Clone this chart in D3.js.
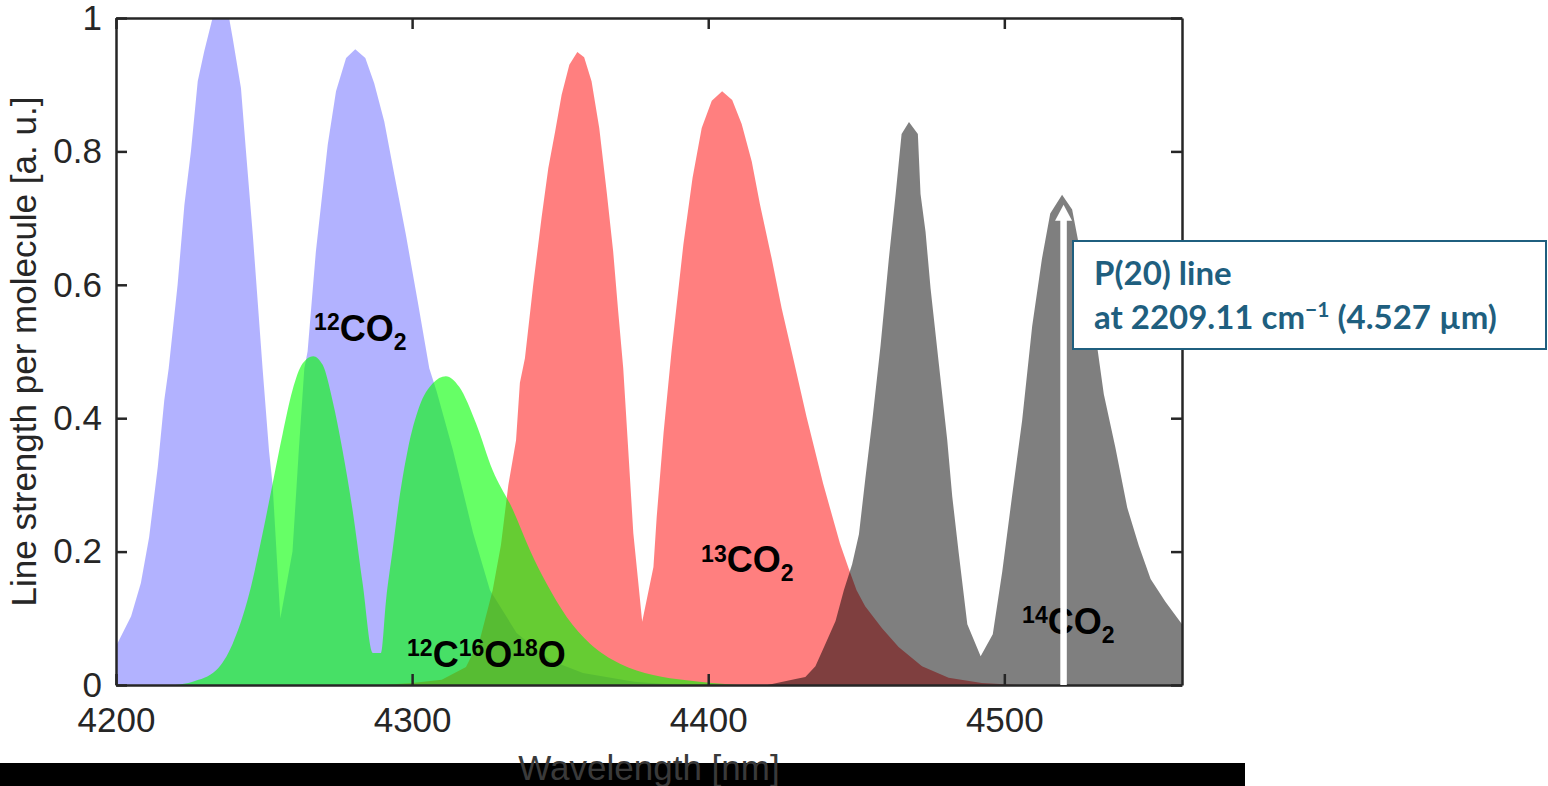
<html>
<head>
  <meta charset="utf-8">
  <title>CO2 isotopologue line strengths</title>
  <script src="https://cdn.jsdelivr.net/npm/d3@7"></script>
  <style>
    body { margin: 0; background: #fff; }
    svg { display: block; font-family: "Liberation Sans", Arial, sans-serif; }
  </style>
</head>
<body>
<div id="chart"></div>
<script>
  // 12CO2 (blue)
  const wl12 = [4200, 4205.1, 4208.4, 4211.2, 4214.1, 4216.3, 4217.8, 4220.8, 4223.1, 4225.3, 4227.6, 4229.8, 4232.6, 4235.4, 4238.2, 4239.4, 4242.2, 4243.9, 4246.2, 4249.5, 4251.7, 4252.9, 4255.5, 4259.6, 4261.7, 4263.6, 4264.7, 4267.5, 4271.5, 4274.3, 4277.7, 4280.8, 4284.2, 4287.2, 4290.6, 4294, 4297.9, 4301.9, 4305.8, 4308.3, 4313.8, 4320.6, 4326.3, 4335.3, 4346.6, 4357.7, 4375, 4390]
  const s12 = [0.058, 0.103, 0.153, 0.222, 0.327, 0.427, 0.475, 0.6, 0.72, 0.8, 0.905, 0.95, 1.0, 1.01, 1.0, 0.97, 0.895, 0.8, 0.675, 0.475, 0.35, 0.30, 0.10, 0.20, 0.35, 0.475, 0.5, 0.65, 0.81, 0.89, 0.94, 0.953, 0.94, 0.902, 0.845, 0.765, 0.675, 0.575, 0.475, 0.44, 0.352, 0.228, 0.142, 0.078, 0.037, 0.018, 0.005, 0]

  // 13CO2 (red)
  const wl13 = [4290, 4300, 4310, 4318.2, 4323, 4327.2, 4330, 4332.5, 4335.1, 4336.4, 4338.1, 4340.9, 4343.7, 4346, 4348.3, 4350.5, 4353.1, 4355.8, 4358.1, 4360.6, 4363.2, 4365.7, 4367.9, 4369.6, 4371.3, 4373, 4374.7, 4376.4, 4377.7, 4381.5, 4382.6, 4384.9, 4386.5, 4387.6, 4391.6, 4394.7, 4397.8, 4401.2, 4404.7, 4408.1, 4411.3, 4414.7, 4417.5, 4421.4, 4424.8, 4428.7, 4433.2, 4438.8, 4444.5, 4447.4, 4450.1, 4453, 4458.7, 4464.3, 4472.2, 4481.2, 4492.4, 4505]
  const s13 = [0, 0.003, 0.008, 0.027, 0.07, 0.142, 0.21, 0.30, 0.367, 0.453, 0.49, 0.6, 0.7, 0.775, 0.83, 0.885, 0.93, 0.949, 0.941, 0.905, 0.835, 0.74, 0.65, 0.56, 0.475, 0.352, 0.228, 0.153, 0.095, 0.177, 0.252, 0.377, 0.45, 0.5, 0.66, 0.76, 0.835, 0.876, 0.89, 0.877, 0.841, 0.785, 0.72, 0.64, 0.565, 0.49, 0.402, 0.302, 0.212, 0.175, 0.142, 0.118, 0.085, 0.057, 0.028, 0.011, 0.003, 0]

  // 12C16O18O (green)
  const wl628 = [4220, 4225.9, 4233.8, 4239.4, 4245, 4249.5, 4252.9, 4256.3, 4259.6, 4263, 4266.6, 4269.8, 4273.1, 4276.5, 4279.9, 4283.3, 4286.7, 4289.5, 4291.2, 4293.4, 4295.6, 4298.5, 4302.4, 4306.9, 4311.4, 4315.9, 4321.6, 4327.2, 4334.1, 4339.8, 4345.4, 4352.2, 4360.1, 4370.2, 4381.4, 4392.7, 4410]
  const s628 = [0, 0.005, 0.022, 0.062, 0.137, 0.227, 0.302, 0.377, 0.442, 0.482, 0.493, 0.48, 0.427, 0.352, 0.262, 0.152, 0.048, 0.048, 0.127, 0.202, 0.277, 0.352, 0.417, 0.452, 0.463, 0.447, 0.392, 0.322, 0.262, 0.202, 0.152, 0.102, 0.062, 0.032, 0.015, 0.007, 0]

  // 14CO2 (grey)
  const wl14 = [4420, 4429.5, 4432.8, 4436.2, 4439.6, 4443, 4445.8, 4448.6, 4450.9, 4453.1, 4455.4, 4458.2, 4461, 4463.3, 4465.3, 4467.8, 4470.8, 4471.7, 4473.4, 4475.1, 4477.9, 4480.7, 4482.4, 4484.6, 4487.5, 4492, 4496.1, 4499.3, 4502.6, 4506, 4509.4, 4512.7, 4515.5, 4519.5, 4522.9, 4525.1, 4528.5, 4531.3, 4533.6, 4537.5, 4541.5, 4545.4, 4549.4, 4554.4, 4560]
  const s14 = [0, 0.009, 0.012, 0.028, 0.062, 0.096, 0.142, 0.181, 0.226, 0.311, 0.396, 0.509, 0.639, 0.736, 0.826, 0.844, 0.826, 0.736, 0.679, 0.594, 0.481, 0.368, 0.283, 0.198, 0.091, 0.043, 0.076, 0.17, 0.283, 0.396, 0.538, 0.639, 0.707, 0.735, 0.713, 0.662, 0.594, 0.509, 0.436, 0.356, 0.266, 0.209, 0.159, 0.125, 0.091]

  const xTicks = [4200, 4300, 4400, 4500]
  const yTicks = [0, 0.2, 0.4, 0.6, 0.8, 1]

  // label anchors in data units: [wavelength, strength]
  const labelPos = { c12: [4266.9, 0.516], c628: [4298.3, 0.027], c13: [4397.6, 0.17], c14: [4506, 0.0765] }
  const p20 = 4520      // arrow position
  const p20Top = 0.72

  const W = 1548, H = 786
  const m = { left: 116, right: 1182, top: 18, bottom: 685 }

  const x = d3.scaleLinear().domain([4200, 4560]).range([m.left, m.right])
  const y = d3.scaleLinear().domain([0, 1]).range([m.bottom, m.top])

  const svg = d3.select("#chart").append("svg")
    .attr("width", W).attr("height", H)

  svg.append("defs").append("clipPath").attr("id", "plotclip")
    .append("rect")
    .attr("x", m.left).attr("y", m.top)
    .attr("width", m.right - m.left).attr("height", m.bottom - m.top)

  const area = d3.area()
    .x(d => x(d[0]))
    .y0(y(0))
    .y1(d => y(d[1]))

  const zip = (a, b) => a.map((v, i) => [v, b[i]])

  const series = [
    { xs: wl12, ys: s12, fill: "rgb(0,0,255)", op: 0.3, curve: d3.curveLinear },
    { xs: wl13, ys: s13, fill: "rgb(255,0,0)", op: 0.5, curve: d3.curveLinear },
    { xs: wl628, ys: s628, fill: "rgb(0,255,0)", op: 0.6, curve: d3.curveMonotoneX },
    { xs: wl14, ys: s14, fill: "rgb(0,0,0)", op: 0.5, curve: d3.curveLinear }
  ]

  const plot = svg.append("g").attr("clip-path", "url(#plotclip)")
  plot.selectAll("path.area").data(series).join("path")
    .attr("class", "area")
    .attr("d", d => area.curve(d.curve)(zip(d.xs, d.ys)))
    .attr("fill", d => d.fill)
    .attr("fill-opacity", d => d.op)

  //axes (ticks point inward on all four sides)
  const axCol = "#262626"
  const fs = 35
  function styleAxis(g) {
    g.select(".domain").attr("stroke", axCol).attr("stroke-width", 2.5)
    g.selectAll(".tick line").attr("stroke", axCol).attr("stroke-width", 2.5)
    g.selectAll(".tick text").attr("fill", axCol).attr("font-size", fs)
      .attr("font-family", "'Liberation Sans', Arial, sans-serif")
  }
  svg.append("g").attr("transform", `translate(0,${m.bottom})`)
    .call(d3.axisBottom(x).tickValues(xTicks).tickSize(-11).tickSizeOuter(0).tickPadding(22).tickFormat(d => String(d)))
    .call(styleAxis)
  svg.append("g").attr("transform", `translate(0,${m.top})`)
    .call(d3.axisTop(x).tickValues(xTicks).tickSize(-11).tickSizeOuter(0).tickFormat(""))
    .call(styleAxis)
  svg.append("g").attr("transform", `translate(${m.left},0)`)
    .call(d3.axisLeft(y).tickValues(yTicks).tickSize(-11).tickSizeOuter(0).tickPadding(14).tickFormat(d => String(d)))
    .call(styleAxis)
  svg.append("g").attr("transform", `translate(${m.right},0)`)
    .call(d3.axisRight(y).tickValues(yTicks).tickSize(-11).tickSizeOuter(0).tickFormat(""))
    .call(styleAxis)

  //y label
  svg.append("text")
    .attr("transform", `translate(36,${(m.top + m.bottom) / 2}) rotate(-90)`)
    .attr("text-anchor", "middle")
    .attr("font-size", fs)
    .attr("fill", axCol)
    .text("Line strength per molecule [a. u.]")

  //species labels
  function isoLabel(pos, parts) {
    const t = svg.append("text")
      .attr("x", x(pos[0])).attr("y", y(pos[1]))
      .attr("font-weight", "bold")
      .attr("fill", "#000")
    let cur = 0
    parts.forEach(p => {
      const shift = p[1] - cur
      cur = p[1]
      t.append("tspan").attr("dy", shift).attr("font-size", p[2]).text(p[0])
    })
    return t
  }
  isoLabel(labelPos.c12, [["12", -11, 23], ["CO", 0, 36], ["2", 9, 23]])
  isoLabel(labelPos.c628, [["12", -11, 23], ["C", 0, 36], ["16", -11, 23], ["O", 0, 36], ["18", -11, 23], ["O", 0, 36]])
  isoLabel(labelPos.c13, [["13", -10, 23], ["CO", 0, 36], ["2", 9, 23]])
  isoLabel(labelPos.c14, [["14", -11, 23], ["CO", 0, 36], ["2", 9, 23]])

  //P(20) arrow
  const ax = x(p20), aTop = y(p20Top)
  svg.append("line")
    .attr("x1", ax).attr("x2", ax)
    .attr("y1", y(0)).attr("y2", aTop + 12)
    .attr("stroke", "#fff").attr("stroke-width", 6.5)
  svg.append("path")
    .attr("d", `M${ax},${aTop} L${ax + 8.5},${aTop + 16} L${ax - 8.5},${aTop + 16} Z`)
    .attr("fill", "#fff")

  //annotation box
  const boxCol = "#1f5f7f"
  svg.append("rect")
    .attr("x", 1073).attr("y", 241).attr("width", 473).attr("height", 108)
    .attr("fill", "#fff").attr("stroke", boxCol).attr("stroke-width", 2)
  const note = svg.append("g")
    .attr("font-family", "Lato, 'Open Sans', sans-serif")
    .attr("font-weight", "bold")
    .attr("font-size", 33)
    .attr("fill", boxCol)
  note.append("text").attr("x", 1094).attr("y", 285).text("P(20) line")
  const l2 = note.append("text").attr("x", 1094).attr("y", 329)
  l2.append("tspan").text("at 2209.11 cm")
  l2.append("tspan").attr("dy", -12).attr("font-size", 21).text("\u22121")
  l2.append("tspan").attr("dy", 12).text(" (4.527 \u00b5m)")

  //black bar at bottom + x label
  svg.append("rect")
    .attr("x", 0).attr("y", 763).attr("width", 1245).attr("height", H - 763)
    .attr("fill", "#000")
  svg.append("text")
    .attr("x", (m.left + m.right) / 2).attr("y", 780)
    .attr("text-anchor", "middle")
    .attr("font-size", fs)
    .attr("fill", "#3a3a3a")
    .text("Wavelength [nm]")
</script>
</body>
</html>
